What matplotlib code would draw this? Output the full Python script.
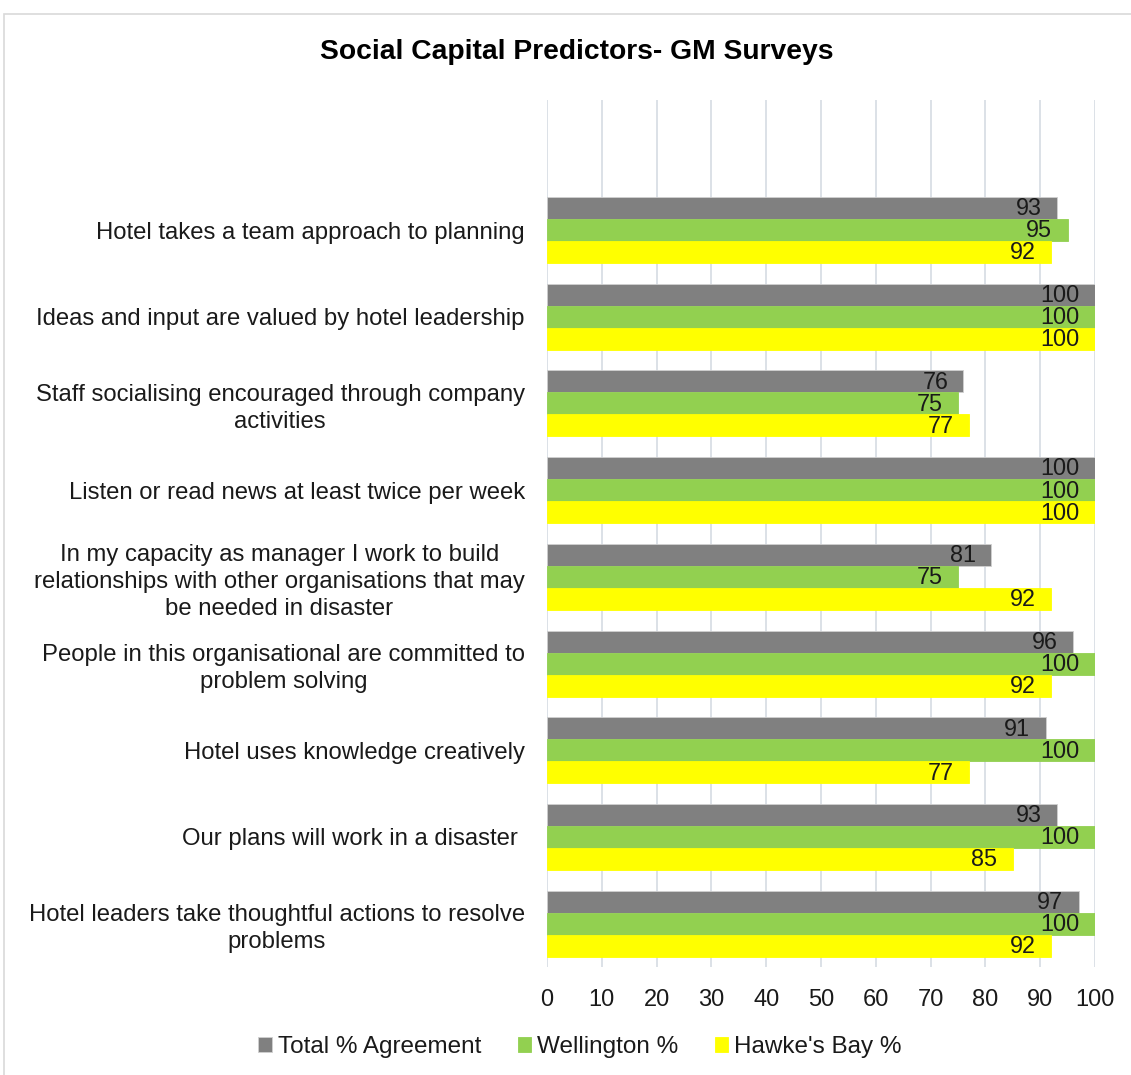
import numpy as np
import matplotlib
matplotlib.use("Agg")
import matplotlib.pyplot as plt
from matplotlib.patches import Rectangle

plt.rcParams['font.family'] = ['Liberation Sans', 'DejaVu Sans']

categories = [
    "Hotel takes a team approach to planning",
    "Ideas and input are valued by hotel leadership",
    "Staff socialising encouraged through company\nactivities",
    "Listen or read news at least twice per week",
    "In my capacity as manager I work to build\nrelationships with other organisations that may\nbe needed in disaster",
    "People in this organisational are committed to\nproblem solving",
    "Hotel uses knowledge creatively",
    "Our plans will work in a disaster ",
    "Hotel leaders take thoughtful actions to resolve\nproblems",
]
total = [93, 100, 76, 100, 81, 96, 91, 93, 97]
wellington = [95, 100, 75, 100, 75, 100, 100, 100, 100]
hawkes_bay = [92, 100, 77, 100, 92, 92, 77, 85, 92]

series = [
    ("Total % Agreement", total, "#808080"),
    ("Wellington %", wellington, "#92D050"),
    ("Hawke's Bay %", hawkes_bay, "#FFFF00"),
]

fig = plt.figure(figsize=(11.31, 10.75), dpi=100)
ax = fig.add_axes([547 / 1131, 1 - 967 / 1075, 548 / 1131, 867 / 1075])

# chart frame
fig.patches.append(Rectangle((4 / 1131, -0.1), 1.2, 1 - 14 / 1075 + 0.1,
                             transform=fig.transFigure, fill=False,
                             edgecolor="#D9D9D9", linewidth=1.2))

# first slot left empty above the groups
y = np.arange(len(categories)) + 1
h = 0.254
for i, (name, vals, color) in enumerate(series):
    pos = y + (i - 1) * h
    ax.barh(pos, vals, height=h, color=color, label=name,
            edgecolor="#D0D0D0" if i == 0 else color, linewidth=0.6)
    for yy, v in zip(pos, vals):
        ax.text(v - 2.8, yy + 0.01, str(v), ha="right", va="center",
                fontsize=16.8, color="#1a1a1a")

ax.set_ylim(len(categories) + 0.5, -0.5)
ax.set_xlim(0, 100)
ax.set_xticks(range(0, 101, 10))
ax.set_yticks(y)
ax.set_yticklabels(categories, fontsize=17.2, multialignment="center",
                   linespacing=1.3)
ax.tick_params(axis="x", labelsize=17, length=0, pad=16, labelcolor="#1a1a1a")
ax.tick_params(axis="y", length=0, pad=16, labelcolor="#1a1a1a")
ax.grid(axis="x", color="#D9DEE5", linewidth=1.3)
ax.set_axisbelow(True)
for s in ax.spines.values():
    s.set_visible(False)

fig.text(577 / 1131, 1 - 52 / 1075, "Social Capital Predictors- GM Surveys",
         ha="center", va="center", fontsize=20.3, fontweight="bold")

fig.legend(loc="center", bbox_to_anchor=(580 / 1131, 1 - 1047 / 1075), ncol=3,
           frameon=False, fontsize=17.5, handlelength=0.55, handleheight=0.55,
           handletextpad=0.25, columnspacing=1.5, labelcolor="#1a1a1a")

fig.savefig("out.png", dpi=100, facecolor="white")
